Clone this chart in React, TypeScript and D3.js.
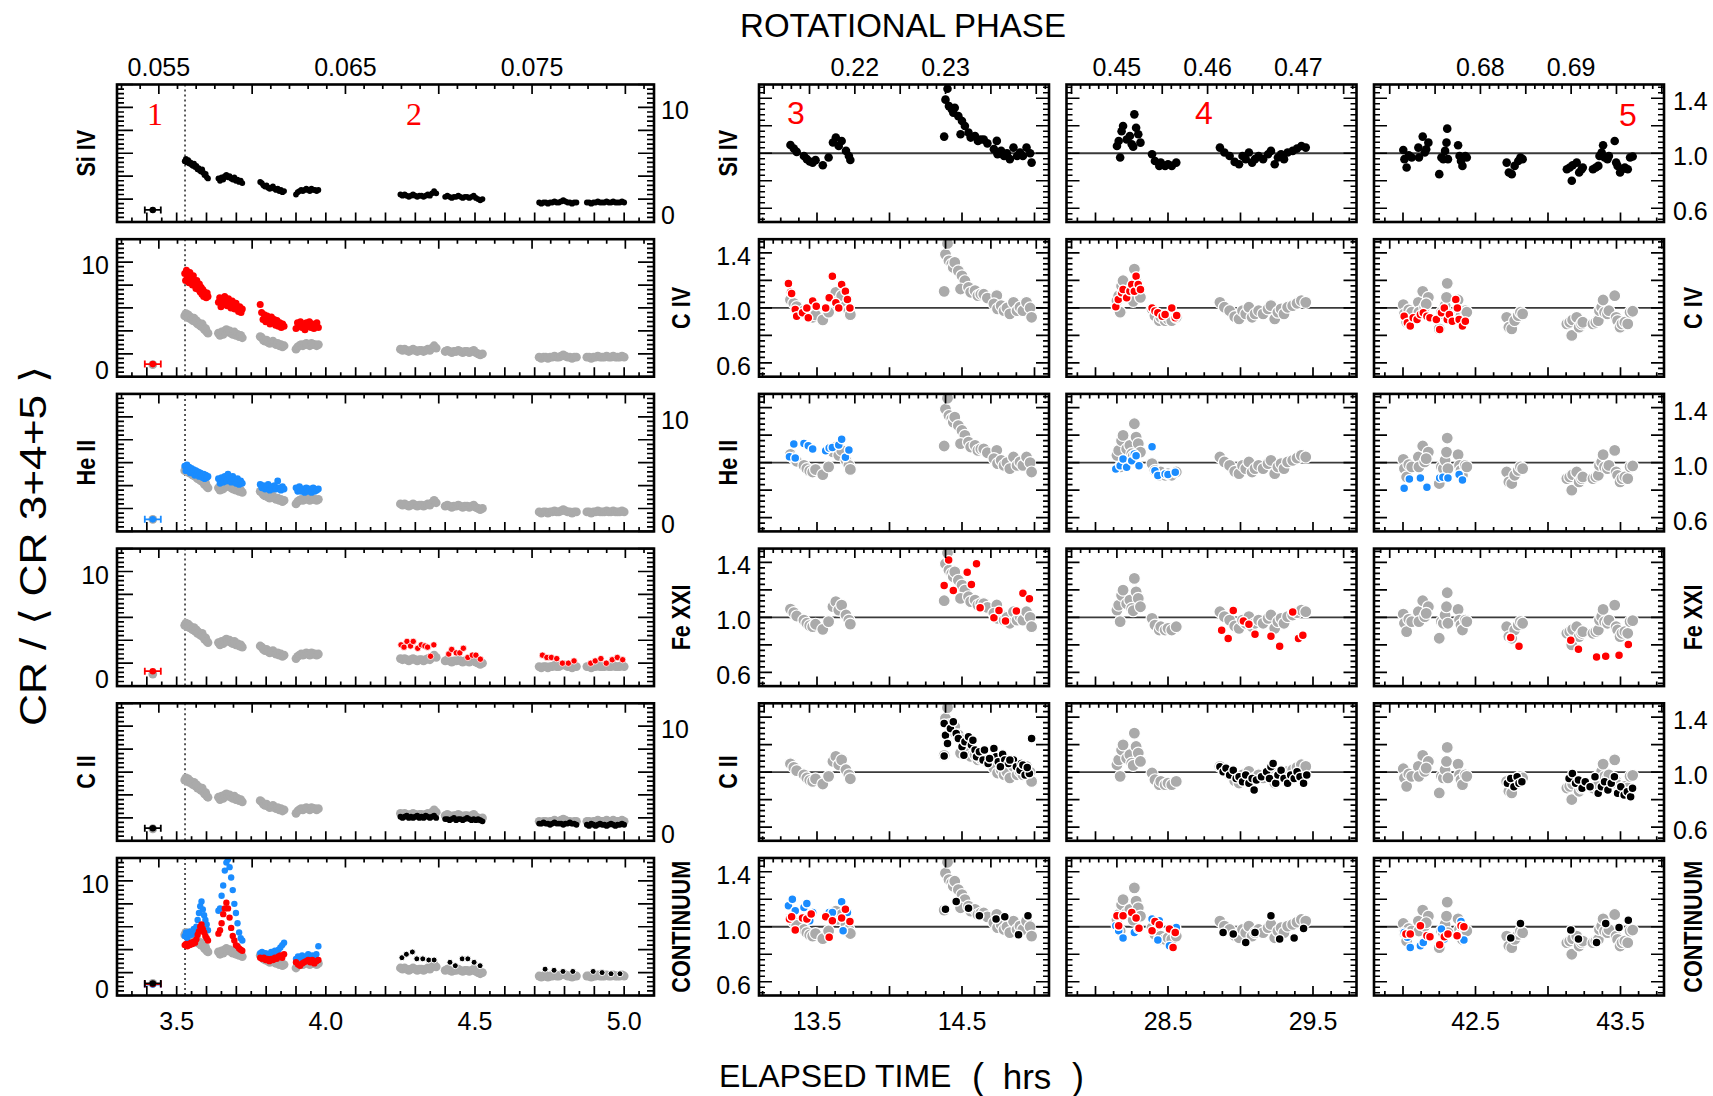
import React from 'react';
import * as d3 from 'd3';

type Pt = [number, number];

// ---------- axes / labels ----------
const PERIOD_HRS = 62.55; // rotational phase = elapsed time / period
const ROW_LABELS = ['Si IV', 'C IV', 'He II', 'Fe XXI', 'C II', 'CONTINUUM'];
const REGION_LABELS = ['1', '2', '3', '4', '5'];
const LEFT_X_DOMAIN: [number, number] = [3.3, 5.1];
const MID_X_DOMAINS: [number, number][] = [[13.1, 15.1], [27.8, 29.8], [41.8, 43.8]];
const LEFT_Y_DOMAIN: [number, number] = [0, 12];
const MID_Y_DOMAIN: [number, number] = [0.5, 1.5];
const LEFT_TIME_LABELS = [3.5, 4.0, 4.5, 5.0];
const MID_TIME_LABELS = [[13.5, 14.5], [28.5, 29.5], [42.5, 43.5]];
const LEFT_PHASE_LABELS = [0.055, 0.065, 0.075];
const MID_PHASE_LABELS = [[0.22, 0.23], [0.45, 0.46, 0.47], [0.68, 0.69]];
const LEFT_Y_LABELS = [10, 0];
const MID_Y_LABELS = [1.4, 1.0, 0.6];
const FLARE_ONSET = 3.528;
const PRE_FLARE_T = 3.42;

// ---------- left column (flare) data ----------
// time ranges (hrs) of the observing sub-intervals A..H
const LEFT_CLUSTERS: Pt[] = [[3.527, 3.605], [3.64, 3.72], [3.78, 3.86], [3.9, 3.975], [4.25, 4.37], [4.4, 4.525], [4.715, 4.84], [4.875, 5.0]];

const siIVLeft: number[][] = [
  [5.3, 5.5, 5.2, 5.4, 5.1, 5.2, 5.0, 4.9, 5.1, 4.8, 4.9, 4.6, 4.7, 4.5, 4.4, 4.6, 4.3, 4.1, 4.2, 3.9, 3.8],
  [3.8, 3.6, 3.9, 3.7, 4.0, 4.1, 3.9, 4.0, 3.8, 3.7, 3.9, 3.6, 3.7, 3.5, 3.6, 3.4],
  [3.5, 3.4, 3.2, 3.1, 3.2, 3.0, 2.9, 3.0, 3.1, 2.9, 2.8, 2.9, 2.7, 2.8, 2.6, 2.7],
  [2.4, 2.6, 2.7, 2.8, 2.7, 2.8, 2.9, 2.8, 2.7, 2.9, 2.8, 2.8, 2.7, 2.8],
  [2.4, 2.3, 2.4, 2.3, 2.2, 2.3, 2.4, 2.3, 2.2, 2.3, 2.3, 2.2, 2.3, 2.4, 2.3, 2.5, 2.7, 2.5],
  [2.2, 2.3, 2.2, 2.1, 2.2, 2.2, 2.3, 2.2, 2.1, 2.2, 2.2, 2.1, 2.2, 2.3, 2.1, 2.0, 1.9, 2.0],
  [1.7, 1.6, 1.7, 1.7, 1.6, 1.7, 1.7, 1.8, 1.7, 1.7, 1.8, 1.9, 1.8, 1.7, 1.7, 1.6, 1.7, 1.7],
  [1.7, 1.7, 1.6, 1.7, 1.7, 1.8, 1.7, 1.7, 1.7, 1.8, 1.7, 1.7, 1.8, 1.7, 1.7, 1.7, 1.8, 1.7],
];
const civLeft: number[][] = [
  [9.0, 8.4, 9.3, 8.7, 8.9, 8.2, 9.1, 8.5, 8.6, 8.0, 8.8, 8.3, 8.1, 7.7, 8.4, 7.9, 7.6, 8.1, 7.4, 7.8, 7.2, 7.6, 7.0, 7.4, 7.1, 6.9, 7.3, 7.0],
  [6.5, 6.9, 6.1, 6.7, 6.3, 7.0, 6.6, 6.2, 6.8, 6.4, 6.0, 6.6, 6.2, 5.9, 6.4, 6.0, 5.7, 6.1, 5.6, 5.9],
  [6.3, 5.6, 5.0, 5.4, 4.8, 5.3, 5.0, 4.6, 5.2, 4.7, 5.0, 4.5, 4.9, 4.4, 4.7, 4.3, 4.6, 4.4],
  [4.2, 4.7, 4.4, 4.8, 4.3, 4.6, 4.1, 4.7, 4.4, 4.8, 4.3, 4.6, 4.2, 4.5, 4.7, 4.3],
];
const heiiLeft: number[][] = [
  [5.7, 5.3, 5.8, 5.4, 5.6, 5.1, 5.5, 5.2, 5.4, 4.9, 5.3, 5.0, 5.2, 4.8, 5.1, 4.9, 4.7, 5.0, 4.6, 4.9, 4.7, 4.8],
  [4.6, 4.2, 4.7, 4.3, 4.8, 4.4, 5.0, 4.6, 4.3, 4.8, 4.4, 4.2, 4.6, 4.1, 4.4, 4.2],
  [4.1, 3.8, 4.0, 3.7, 3.9, 4.1, 3.6, 3.9, 3.7, 4.0, 3.7, 4.4, 3.8, 3.6, 3.9, 3.7],
  [3.8, 3.5, 3.9, 3.5, 3.7, 3.4, 3.8, 3.5, 3.7, 3.4, 3.8, 3.5, 3.6, 3.7],
];
const ciiLeft: number[][] = [
  [2.1, 2.0, 2.1, 2.2, 2.0, 2.1, 2.0, 2.1, 2.2, 2.0, 2.1, 2.0, 2.2, 2.1, 2.0, 2.1, 2.2, 2.0],
  [1.9, 1.9, 1.8, 1.9, 2.0, 1.8, 1.9, 1.9, 1.8, 1.9, 2.0, 1.9, 1.8, 1.9, 1.8, 1.9, 1.8, 1.7],
  [1.5, 1.5, 1.6, 1.5, 1.5, 1.4, 1.5, 1.6, 1.5, 1.5, 1.5, 1.4, 1.5, 1.5, 1.6, 1.5, 1.5, 1.4],
  [1.4, 1.3, 1.5, 1.4, 1.3, 1.4, 1.5, 1.4, 1.4, 1.3, 1.4, 1.5, 1.4, 1.3, 1.4, 1.4, 1.5, 1.4],
];
const contBlueLeft: number[][] = [
  [5.2, 5.5, 5.0, 5.4, 5.6, 5.3, 5.5, 5.8, 5.4, 6.0, 6.6, 7.2, 7.8, 8.2, 7.5, 7.0, 6.6, 6.2, 5.7],
  [7.4, 7.6, 8.7, 9.6, 10.9, 11.6, 11.9, 11.2, 10.3, 9.2, 8.0, 7.2, 6.3, 5.5, 5.0, 4.8],
  [3.7, 3.8, 3.6, 3.7, 3.5, 3.6, 3.8, 3.7, 3.9, 3.8, 4.0, 4.2, 4.4, 4.6],
  [3.2, 3.4, 3.3, 3.5, 3.1, 3.4, 3.6, 3.3, 3.5, 3.4, 3.6, 4.3],
];
const contRedLeft: number[][] = [
  [4.4, 4.5, 4.3, 4.5, 4.4, 4.6, 4.5, 4.7, 4.6, 4.9, 5.3, 5.6, 6.0, 6.2, 5.8, 5.5, 5.2, 5.0, 4.8],
  [5.4, 5.7, 6.3, 7.1, 7.6, 8.1, 7.6, 6.8, 5.9, 5.2, 4.8, 4.4, 4.3, 4.1, 4.0, 3.9],
  [3.3, 3.2, 3.3, 3.1, 3.2, 3.0, 3.2, 3.1, 3.3, 3.2, 3.4, 3.5, 3.3, 3.6],
  [2.9, 2.7, 2.6, 2.8, 2.9, 3.0, 3.1, 2.9, 3.1, 2.8, 3.0, 3.1],
];
const fexxiLeft: Pt[] = [
  [4.252, 3.6], [4.262, 3.4], [4.272, 3.9], [4.284, 3.5], [4.293, 3.9], [4.308, 3.3], [4.32, 3.6], [4.332, 3.5], [4.341, 3.4], [4.351, 2.6], [4.362, 3.6],
  [4.412, 2.8], [4.422, 3.2], [4.437, 2.9], [4.449, 2.9], [4.461, 3.3], [4.476, 2.5], [4.491, 2.7], [4.503, 2.7], [4.518, 2.35],
  [4.726, 2.7], [4.741, 2.5], [4.756, 2.5], [4.774, 2.4], [4.793, 2.0], [4.813, 2.0], [4.832, 2.2],
  [4.888, 2.0], [4.903, 2.2], [4.922, 2.4], [4.94, 2.0], [4.96, 2.3], [4.977, 2.5], [4.995, 2.3],
];
const contBlackLeft: Pt[] = [
  [4.255, 3.3], [4.27, 3.6], [4.29, 3.8], [4.305, 3.2], [4.325, 3.2], [4.345, 3.1], [4.363, 3.1],
  [4.416, 2.9], [4.434, 2.6], [4.457, 3.2], [4.476, 3.2], [4.497, 2.9], [4.517, 2.6],
  [4.735, 2.3], [4.765, 2.2], [4.795, 2.1], [4.828, 2.1],
  [4.896, 2.1], [4.926, 2.0], [4.956, 1.9], [4.986, 1.9],
];
// pre-flare (interval 1) values per row
const PRE_SIIV = 1.05, PRE_CIV = 1.1, PRE_HEII = 1.05, PRE_FEXXI = 1.3, PRE_CII = 1.1;
const PRE_CONT = [0.95, 1.0, 1.05]; // blue, red, black

// ---------- quiescent panels (3, 4, 5) ----------
const siIVMid: Pt[][] = [
  [[13.317, 1.06], [13.34, 1.034], [13.36, 1.01], [13.41, 0.98], [13.43, 0.957], [13.45, 0.94], [13.47, 0.932], [13.49, 0.95], [13.54, 0.913], [13.58, 0.969], [13.61, 1.078], [13.63, 1.114], [13.65, 1.053], [13.67, 1.089], [13.7, 1.017], [13.72, 0.98], [13.73, 0.951],
   [14.377, 1.121], [14.386, 1.39], [14.4, 1.469], [14.41, 1.343], [14.43, 1.319], [14.44, 1.295], [14.45, 1.331], [14.475, 1.27], [14.5, 1.234], [14.52, 1.198], [14.49, 1.138], [14.545, 1.15], [14.56, 1.114], [14.59, 1.126], [14.61, 1.089], [14.63, 1.1], [14.65, 1.1], [14.675, 1.072], [14.74, 1.09], [14.72, 1.03], [14.745, 0.993], [14.77, 1.017], [14.79, 0.98], [14.81, 1.0], [14.83, 0.957], [14.855, 1.041], [14.88, 0.98], [14.9, 1.005], [14.92, 0.98], [14.945, 1.041], [14.97, 1.0], [14.98, 0.932]],
  [[28.148, 1.053], [28.16, 1.089], [28.17, 0.969], [28.18, 1.16], [28.19, 1.198], [28.215, 1.1], [28.237, 1.126], [28.25, 1.065], [28.26, 1.048], [28.268, 1.283], [28.28, 1.186], [28.295, 1.138], [28.31, 1.077],
   [28.39, 0.993], [28.41, 0.944], [28.44, 0.908], [28.45, 0.932], [28.48, 0.908], [28.5, 0.92], [28.526, 0.908], [28.557, 0.932],
   [28.858, 1.041], [28.889, 1.005], [28.925, 0.98], [28.96, 0.937], [28.99, 0.92], [29.014, 0.98], [29.036, 0.957], [29.058, 1.005], [29.08, 0.932], [29.1, 0.957], [29.125, 0.98], [29.156, 0.957], [29.19, 0.993], [29.21, 1.017], [29.236, 0.92], [29.258, 0.969], [29.28, 0.993], [29.3, 0.957], [29.325, 1.005], [29.36, 1.017], [29.39, 1.034], [29.42, 1.053], [29.45, 1.041]],
  [[42.002, 1.024], [42.01, 0.957], [42.025, 0.896], [42.04, 0.986], [42.06, 0.969], [42.106, 1.041], [42.11, 0.969], [42.136, 1.121], [42.15, 1.005], [42.175, 1.077], [42.16, 1.029],
   [42.25, 0.848], [42.265, 0.969], [42.278, 0.957], [42.29, 1.017], [42.3, 1.077], [42.305, 1.179], [42.31, 0.957],
   [42.38, 1.058], [42.39, 0.98], [42.4, 0.944], [42.41, 0.908], [42.43, 0.98], [42.44, 0.969],
   [42.715, 0.932], [42.73, 0.86], [42.75, 0.848], [42.77, 0.908], [42.795, 0.944], [42.81, 0.969], [42.825, 0.957],
   [43.13, 0.884], [43.15, 0.896], [43.164, 0.8], [43.17, 0.913], [43.198, 0.932], [43.215, 0.86], [43.232, 0.884], [43.24, 0.896],
   [43.31, 0.884], [43.33, 0.896], [43.347, 0.908], [43.355, 0.98], [43.37, 1.005], [43.38, 1.058], [43.39, 0.969], [43.41, 0.957], [43.42, 0.98],
   [43.46, 1.089], [43.47, 0.932], [43.48, 0.908], [43.497, 0.86], [43.51, 0.884], [43.53, 0.896], [43.55, 0.884], [43.566, 0.969], [43.584, 0.976]],
];
const civMid: Pt[][] = [
  [[13.303, 1.178], [13.317, 1.115], [13.325, 1.105], [13.35, 0.989], [13.36, 0.94], [13.4, 0.965], [13.43, 1.0], [13.44, 0.928], [13.47, 1.05], [13.495, 1.013], [13.56, 1.0], [13.584, 1.074], [13.606, 1.231], [13.63, 1.038], [13.65, 1.0], [13.67, 1.171], [13.696, 1.122], [13.71, 1.062], [13.727, 1.0]],
  [[28.14, 1.009], [28.157, 1.062], [28.18, 1.11], [28.19, 1.135], [28.215, 1.074], [28.237, 1.122], [28.25, 1.171], [28.268, 1.122], [28.28, 1.231], [28.295, 1.171], [28.31, 1.135], [28.39, 1.0], [28.41, 0.977], [28.43, 0.965], [28.46, 0.94], [28.48, 0.953], [28.526, 1.0], [28.55, 0.928], [28.56, 0.945]],
  [[42.008, 0.94], [42.03, 0.892], [42.05, 0.868], [42.07, 0.928], [42.097, 0.916], [42.12, 0.953], [42.14, 0.965], [42.165, 0.94], [42.186, 0.928], [42.23, 0.916], [42.253, 0.844], [42.265, 0.965], [42.285, 1.0], [42.305, 0.916], [42.32, 0.953], [42.34, 0.904], [42.364, 1.062], [42.375, 1.0], [42.387, 0.916], [42.41, 0.868], [42.43, 0.904]],
];
const heiiMid: Pt[][] = [
  [[13.31, 1.043], [13.34, 1.135], [13.35, 1.034], [13.41, 1.14], [13.44, 1.123], [13.47, 1.099], [13.56, 1.087], [13.584, 1.106], [13.606, 1.111], [13.65, 1.128], [13.67, 1.171], [13.696, 1.039], [13.72, 1.092]],
  [[28.14, 0.954], [28.17, 0.978], [28.19, 1.027], [28.215, 0.966], [28.25, 1.014], [28.268, 1.063], [28.28, 1.051], [28.3, 0.978], [28.39, 1.116], [28.41, 0.942], [28.43, 0.906], [28.48, 0.918], [28.5, 0.913], [28.55, 0.93]],
  [[42.008, 0.814], [42.044, 0.882], [42.12, 0.889], [42.165, 0.821], [42.253, 0.889], [42.275, 0.894], [42.31, 0.889], [42.387, 0.913], [42.41, 0.874]],
];
const fexxiMid: Pt[][] = [
  [[14.377, 1.232], [14.408, 1.418], [14.44, 1.196], [14.536, 1.328], [14.565, 1.239], [14.6, 1.389], [14.625, 1.07], [14.72, 0.998], [14.755, 1.05], [14.8, 0.973], [14.875, 1.046], [14.92, 1.176], [14.965, 1.135]],
  [[28.87, 0.906], [28.915, 0.846], [28.95, 1.05], [29.02, 0.973], [29.058, 0.949], [29.1, 0.877], [29.21, 0.862], [29.27, 0.79], [29.36, 1.039], [29.4, 0.846], [29.43, 0.87]],
  [[42.743, 0.853], [42.8, 0.79], [43.157, 0.833], [43.21, 0.768], [43.335, 0.712], [43.398, 0.717], [43.49, 0.725], [43.554, 0.802]],
];
const ciiMid: Pt[][] = [
  [[14.377, 1.353], [14.386, 1.268], [14.4, 1.208], [14.42, 1.317], [14.44, 1.365], [14.46, 1.28], [14.475, 1.244], [14.5, 1.184], [14.52, 1.22], [14.545, 1.256], [14.565, 1.196], [14.59, 1.16], [14.6, 1.111], [14.62, 1.147], [14.645, 1.087], [14.68, 1.063], [14.72, 1.172], [14.735, 1.111], [14.75, 1.075], [14.78, 1.13], [14.795, 1.087], [14.82, 1.063], [14.855, 1.087], [14.875, 1.039], [14.9, 1.014], [14.91, 1.063], [14.935, 0.978], [14.965, 0.99], [14.98, 1.244], [14.92, 1.051], [14.377, 1.116], [14.513, 1.123], [14.575, 1.232], [14.655, 1.16], [14.69, 1.099], [14.765, 1.039], [14.83, 1.087], [14.95, 1.034]],
  [[28.858, 1.039], [28.88, 1.002], [28.9, 1.027], [28.925, 0.978], [28.95, 1.014], [28.97, 0.954], [28.99, 0.966], [29.014, 0.93], [29.036, 0.978], [29.058, 0.918], [29.08, 0.954], [29.094, 0.87], [29.11, 0.942], [29.145, 0.966], [29.18, 1.002], [29.2, 0.954], [29.21, 1.039], [29.225, 1.063], [29.243, 0.918], [29.258, 0.978], [29.28, 1.014], [29.3, 0.954], [29.325, 0.918], [29.346, 0.978], [29.37, 0.954], [29.39, 1.002], [29.41, 0.966], [29.435, 0.918], [29.457, 0.978]],
  [[42.72, 0.918], [42.743, 0.954], [42.765, 0.894], [42.787, 0.966], [42.8, 0.918], [42.82, 0.93], [43.145, 0.954], [43.168, 0.99], [43.19, 0.918], [43.21, 0.942], [43.235, 0.882], [43.257, 0.93], [43.29, 0.894], [43.324, 0.966], [43.346, 0.846], [43.368, 0.894], [43.39, 0.93], [43.413, 0.87], [43.436, 0.918], [43.458, 0.966], [43.48, 0.846], [43.502, 0.894], [43.525, 0.833], [43.547, 0.857], [43.57, 0.821], [43.583, 0.882]],
];
const contBlueMid: Pt[][] = [
  [[13.303, 1.152], [13.33, 1.2], [13.35, 1.116], [13.41, 1.14], [13.43, 1.169], [13.45, 1.043], [13.47, 1.104], [13.56, 1.08], [13.584, 1.104], [13.606, 1.104], [13.67, 1.181], [13.68, 0.971], [13.71, 1.104]],
  [[28.14, 1.007], [28.16, 0.971], [28.19, 0.918], [28.268, 0.959], [28.295, 0.983], [28.39, 1.056], [28.43, 0.904], [28.44, 1.043], [28.51, 0.862], [28.557, 0.995]],
  [[42.008, 0.959], [42.03, 0.923], [42.05, 0.85], [42.12, 0.862], [42.14, 0.886], [42.186, 0.935], [42.265, 0.983], [42.285, 0.911], [42.4, 1.039], [42.42, 0.904]],
];
const contRedMid: Pt[][] = [
  [[13.31, 1.056], [13.325, 1.072], [13.35, 0.976], [13.4, 1.063], [13.43, 1.056], [13.46, 1.092], [13.56, 1.072], [13.584, 0.923], [13.606, 1.043], [13.67, 1.063], [13.696, 1.128], [13.727, 1.039]],
  [[28.148, 1.08], [28.16, 1.007], [28.19, 1.08], [28.25, 1.104], [28.28, 1.063], [28.3, 0.99], [28.39, 0.971], [28.41, 1.039], [28.44, 1.014], [28.51, 0.983], [28.535, 0.85], [28.55, 0.959]],
  [[42.02, 0.947], [42.05, 0.947], [42.12, 1.007], [42.165, 0.935], [42.186, 0.928], [42.253, 0.87], [42.285, 0.928], [42.31, 0.947], [42.373, 0.935], [42.4, 1.007], [42.42, 1.0]],
];
const contBlackMid: Pt[][] = [
  [[14.386, 1.128], [14.46, 1.184], [14.545, 1.135], [14.62, 1.08], [14.735, 1.056], [14.795, 1.072], [14.89, 0.942], [14.955, 1.08]],
  [[28.88, 0.959], [28.95, 0.947], [29.036, 0.886], [29.1, 0.959], [29.21, 1.08], [29.27, 0.911], [29.37, 0.918], [29.435, 0.988]],
  [[42.743, 0.918], [42.81, 1.024], [43.157, 0.976], [43.21, 0.911], [43.335, 0.886], [43.398, 1.024], [43.49, 0.995], [43.554, 1.048]],
];

// ---------- styling / layout ----------
const RED = '#ff0000', BLUE = '#1a8cff', GRAY = '#aaaaaa', BLACK = '#000000';
const FONT = "'Liberation Sans', Arial, Helvetica, sans-serif";
const ROW_TOP0 = 84.5, ROW_PITCH = 154.7, ROW_H = 137.5;
const LEFT_X0 = 117, LEFT_W = 537;
const MID_X0 = [759, 1066.5, 1374], MID_W = 290;

const TICKS = {
  left: { xMajor: 0.1, xMinor: 0.05, pMajor: 0.005, pMinor: 0.001, yMajor: 2, yMinor: 0.4, yMaj: 16, yMin: 7 },
  mid: { xMajor: 0.5, xMinor: 0.125, pMajor: 0.005, pMinor: 0.001, yMajor: 0.2, yMinor: 0.04, yMaj: 13, yMin: 6 },
};
const X_TICK_MAJ = 9.5, X_TICK_MIN = 4.5;

function stepTicks(d0: number, d1: number, step: number): number[] {
  const s = Math.ceil(d0 / step - 1e-6), e = Math.floor(d1 / step + 1e-6);
  return d3.range(s, e + 1).map((i) => i * step);
}

function spread(values: number[][], startIdx: number): Pt[] {
  const out: Pt[] = [];
  values.forEach((vals, k) => {
    const [t0, t1] = LEFT_CLUSTERS[startIdx + k];
    vals.forEach((v, i) => out.push([t0 + (i * (t1 - t0)) / (vals.length - 1), v]));
  });
  return out;
}

type Layer = { pts: Pt[]; fill: string; r: number; stroke?: string; sw?: number };
type Pre = { fill: string; v: number; bar: boolean };

function Panel(props: { id: string; x: number; y: number; w: number; h: number; xd: [number, number]; yd: [number, number]; kind: 'left' | 'mid'; layers: Layer[]; pre?: Pre[] }) {
  const { id, x, y, w, h, xd, yd, kind, layers, pre } = props;
  const xs = d3.scaleLinear().domain(xd).range([x, x + w]);
  const ys = d3.scaleLinear().domain(yd).range([y + h, y]);
  const c = TICKS[kind];
  let d = '';
  const seg = (x1: number, y1: number, x2: number, y2: number) => { d += `M${x1},${y1}L${x2},${y2}`; };
  stepTicks(xd[0], xd[1], c.xMinor).forEach((t) => seg(xs(t), y + h, xs(t), y + h - X_TICK_MIN));
  stepTicks(xd[0], xd[1], c.xMajor).forEach((t) => seg(xs(t), y + h, xs(t), y + h - X_TICK_MAJ));
  const pd0 = xd[0] / PERIOD_HRS, pd1 = xd[1] / PERIOD_HRS;
  stepTicks(pd0, pd1, c.pMinor).forEach((p) => { const px = xs(p * PERIOD_HRS); seg(px, y, px, y + X_TICK_MIN); });
  stepTicks(pd0, pd1, c.pMajor).forEach((p) => { const px = xs(p * PERIOD_HRS); seg(px, y, px, y + X_TICK_MAJ); });
  stepTicks(yd[0], yd[1], c.yMinor).forEach((v) => { seg(x, ys(v), x + c.yMin, ys(v)); seg(x + w, ys(v), x + w - c.yMin, ys(v)); });
  stepTicks(yd[0], yd[1], c.yMajor).forEach((v) => { seg(x, ys(v), x + c.yMaj, ys(v)); seg(x + w, ys(v), x + w - c.yMaj, ys(v)); });
  const clip = `clip-${id}`;
  return (
    <g>
      <defs>
        <clipPath id={clip}><rect x={x} y={y} width={w} height={h} /></clipPath>
      </defs>
      <g clipPath={`url(#${clip})`}>
        {kind === 'mid' && <line x1={x} x2={x + w} y1={ys(1)} y2={ys(1)} stroke="#3a3a3a" strokeWidth={1.8} />}
        {kind === 'left' && <line x1={xs(FLARE_ONSET)} x2={xs(FLARE_ONSET)} y1={y} y2={y + h} stroke="#000" strokeWidth={1.3} strokeDasharray="2,3" />}
        {layers.map((L, i) => (
          <g key={i}>
            {L.pts.map((p, j) => (
              <circle key={j} cx={xs(p[0])} cy={ys(p[1])} r={L.r} fill={L.fill} stroke={L.stroke || 'none'} strokeWidth={L.sw || 0} />
            ))}
          </g>
        ))}
        {pre && pre.map((p, i) => {
          const cx = xs(PRE_FLARE_T), cy = ys(p.v);
          return (
            <g key={i}>
              {p.bar && <path d={`M${cx - 8},${cy}L${cx + 8},${cy}M${cx - 8},${cy - 3.5}L${cx - 8},${cy + 3.5}M${cx + 8},${cy - 3.5}L${cx + 8},${cy + 3.5}`} stroke={p.fill} strokeWidth={1.8} fill="none" />}
              <circle cx={cx} cy={cy} r={p.bar ? 3.3 : 4.4} fill={p.fill} />
            </g>
          );
        })}
      </g>
      <path d={d} stroke="#000" strokeWidth={1.7} fill="none" />
      <rect x={x} y={y} width={w} height={h} fill="none" stroke="#000" strokeWidth={2.6} />
    </g>
  );
}

const siIVLeftPts = spread(siIVLeft, 0);
const civLeftPts = spread(civLeft, 0);
const heiiLeftPts = spread(heiiLeft, 0);
const ciiLeftPts = spread(ciiLeft, 4);
const contBlueLeftPts = spread(contBlueLeft, 0);
const contRedLeftPts = spread(contRedLeft, 0);

function leftLayers(row: number): Layer[] {
  const gray: Layer = { pts: siIVLeftPts, fill: GRAY, r: 4.4 };
  switch (row) {
    case 0: return [{ pts: siIVLeftPts, fill: BLACK, r: 2.9 }];
    case 1: return [gray, { pts: civLeftPts, fill: RED, r: 3.5 }];
    case 2: return [gray, { pts: heiiLeftPts, fill: BLUE, r: 3.4 }];
    case 3: return [gray, { pts: fexxiLeft, fill: RED, r: 3.2, stroke: '#fff', sw: 0.8 }];
    case 4: return [gray, { pts: ciiLeftPts, fill: BLACK, r: 2.9 }];
    default: return [gray, { pts: contBlueLeftPts, fill: BLUE, r: 3.2 }, { pts: contRedLeftPts, fill: RED, r: 3.2 }, { pts: contBlackLeft, fill: BLACK, r: 3, stroke: '#fff', sw: 1 }];
  }
}
function leftPre(row: number): Pre[] {
  const g: Pre = { fill: GRAY, v: PRE_SIIV, bar: false };
  switch (row) {
    case 0: return [{ fill: BLACK, v: PRE_SIIV, bar: true }];
    case 1: return [g, { fill: RED, v: PRE_CIV, bar: true }];
    case 2: return [g, { fill: BLUE, v: PRE_HEII, bar: true }];
    case 3: return [g, { fill: RED, v: PRE_FEXXI, bar: true }];
    case 4: return [g, { fill: BLACK, v: PRE_CII, bar: true }];
    default: return [g, { fill: BLUE, v: PRE_CONT[0], bar: true }, { fill: RED, v: PRE_CONT[1], bar: true }, { fill: BLACK, v: PRE_CONT[2], bar: true }];
  }
}
function midLayers(row: number, k: number): Layer[] {
  const gray: Layer = { pts: siIVMid[k], fill: GRAY, r: 6, stroke: '#fff', sw: 1.2 };
  const col = (pts: Pt[], fill: string): Layer => ({ pts, fill, r: 4.5, stroke: '#fff', sw: 1.5 });
  switch (row) {
    case 0: return [{ pts: siIVMid[k], fill: BLACK, r: 4.3 }];
    case 1: return [gray, col(civMid[k], RED)];
    case 2: return [gray, col(heiiMid[k], BLUE)];
    case 3: return [gray, col(fexxiMid[k], RED)];
    case 4: return [gray, col(ciiMid[k], BLACK)];
    default: return [gray, col(contBlueMid[k], BLUE), col(contRedMid[k], RED), col(contBlackMid[k], BLACK)];
  }
}

const REGION_POS: [number, number, boolean][] = [[155, 114, true], [414, 114, true], [796, 113, false], [1204, 113, false], [1628, 115, false]];

export default function App() {
  const rows = d3.range(6);
  const leftX = d3.scaleLinear().domain(LEFT_X_DOMAIN).range([LEFT_X0, LEFT_X0 + LEFT_W]);
  const midX = MID_X_DOMAINS.map((dom, k) => d3.scaleLinear().domain(dom).range([MID_X0[k], MID_X0[k] + MID_W]));
  const tickTxt = { fontFamily: FONT, fontSize: 25, fill: '#000' } as const;
  const rowTxt = { fontFamily: FONT, fontSize: 26, fontWeight: 700, fill: '#000' } as const;
  const titleTxt = { fontFamily: FONT, fontSize: 33, fill: '#000' } as const;
  return (
    <svg width={1713} height={1096} viewBox="0 0 1713 1096" style={{ position: 'absolute', left: 0, top: 0, background: '#fff' }}>
      <rect x={0} y={0} width={1713} height={1096} fill="#fff" />
      {rows.map((r) => {
        const top = ROW_TOP0 + r * ROW_PITCH;
        const ly = d3.scaleLinear().domain(LEFT_Y_DOMAIN).range([top + ROW_H, top]);
        const my = d3.scaleLinear().domain(MID_Y_DOMAIN).range([top + ROW_H, top]);
        const leftSide = r % 2 === 1; // tick numbers on the left for C IV, Fe XXI, Continuum
        const cy = top + ROW_H / 2;
        return (
          <g key={r}>
            <Panel id={`L${r}`} x={LEFT_X0} y={top} w={LEFT_W} h={ROW_H} xd={LEFT_X_DOMAIN} yd={LEFT_Y_DOMAIN} kind="left" layers={leftLayers(r)} pre={leftPre(r)} />
            {MID_X_DOMAINS.map((dom, k) => (
              <Panel key={k} id={`M${r}${k}`} x={MID_X0[k]} y={top} w={MID_W} h={ROW_H} xd={dom} yd={MID_Y_DOMAIN} kind="mid" layers={midLayers(r, k)} />
            ))}
            {LEFT_Y_LABELS.map((v) => (
              <text key={`ly${v}`} x={leftSide ? LEFT_X0 - 8 : LEFT_X0 + LEFT_W + 7} y={Math.min(ly(v) + 3, top + ROW_H - 7)} textAnchor={leftSide ? 'end' : 'start'} dominantBaseline="central" {...tickTxt}>{v}</text>
            ))}
            {MID_Y_LABELS.map((v) => (
              <text key={`my${v}`} x={leftSide ? MID_X0[0] - 8 : MID_X0[2] + MID_W + 9} y={my(v) + 3} textAnchor={leftSide ? 'end' : 'start'} dominantBaseline="central" {...tickTxt}>{v.toFixed(1)}</text>
            ))}
            <text transform={`translate(${leftSide ? 681 : 86},${cy}) rotate(-90) scale(0.83,1)`} textAnchor="middle" dominantBaseline="central" {...rowTxt}>{ROW_LABELS[r]}</text>
            <text transform={`translate(${leftSide ? 1693 : 728},${cy}) rotate(-90) scale(0.83,1)`} textAnchor="middle" dominantBaseline="central" {...rowTxt}>{ROW_LABELS[r]}</text>
          </g>
        );
      })}
      {LEFT_PHASE_LABELS.map((p) => (
        <text key={`lp${p}`} x={leftX(p * PERIOD_HRS)} y={67} textAnchor="middle" dominantBaseline="central" {...tickTxt}>{p.toFixed(3)}</text>
      ))}
      {MID_PHASE_LABELS.map((ps, k) => ps.map((p) => (
        <text key={`mp${k}${p}`} x={midX[k](p * PERIOD_HRS)} y={67} textAnchor="middle" dominantBaseline="central" {...tickTxt}>{p.toFixed(2)}</text>
      )))}
      {LEFT_TIME_LABELS.map((t) => (
        <text key={`lt${t}`} x={leftX(t)} y={1021} textAnchor="middle" dominantBaseline="central" {...tickTxt}>{t.toFixed(1)}</text>
      ))}
      {MID_TIME_LABELS.map((ts, k) => ts.map((t) => (
        <text key={`mt${k}${t}`} x={midX[k](t)} y={1021} textAnchor="middle" dominantBaseline="central" {...tickTxt}>{t.toFixed(1)}</text>
      )))}
      {REGION_LABELS.map((s, i) => (
        <text key={`rg${s}`} x={REGION_POS[i][0]} y={REGION_POS[i][1]} textAnchor="middle" dominantBaseline="central" fill={RED} fontSize={32} fontFamily={REGION_POS[i][2] ? "'Liberation Serif', 'DejaVu Serif', serif" : FONT}>{s}</text>
      ))}
      <text x={903} y={25} textAnchor="middle" dominantBaseline="central" {...titleTxt}>ROTATIONAL PHASE</text>
      <text x={719} y={1076} dominantBaseline="central" {...titleTxt} fontSize={32}>ELAPSED TIME</text>
      <text x={972} y={1076} dominantBaseline="central" {...titleTxt} fontSize={36}>(</text>
      <text x={1027} y={1076} textAnchor="middle" dominantBaseline="central" {...titleTxt} fontSize={35}>hrs</text>
      <text x={1072} y={1076} dominantBaseline="central" {...titleTxt} fontSize={36}>)</text>
      <text transform="translate(33,546) rotate(-90)" textAnchor="middle" dominantBaseline="central" fontFamily={FONT} fontSize={37} textLength={360} lengthAdjust="spacingAndGlyphs">CR / ⟨ CR 3+4+5 ⟩</text>
    </svg>
  );
}
